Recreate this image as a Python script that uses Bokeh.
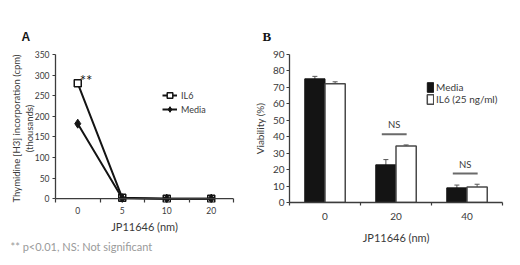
import numpy as np
from bokeh.plotting import figure
from bokeh.models import (ColumnDataSource, FixedTicker, Legend, LegendItem, Title,
                          Whisker, TeeHead, Range1d, Span)
from bokeh.layouts import row
from bokeh.embed import file_html
from bokeh.resources import INLINE
from bokeh.core.properties import value

# ---------------- data ----------------
# Panel A: thymidine incorporation (thousands cpm)
doses_a = ["0", "5", "10", "20"]
il6_a = [280, 2, 0, 0]
media_a = [182, 1, 0, 0]
yticks_a = [0, 50, 100, 150, 200, 250, 300, 350]

# Panel B: viability (%)
doses_b = ["0", "20", "40"]
media_b = [75.2, 22.9, 8.9]
media_b_err = [1.5, 3.2, 1.7]
il6_b = [72.2, 34.3, 9.5]
il6_b_err = [1.2, 0.7, 1.6]
yticks_b = [0, 10, 20, 30, 40, 50, 60, 70, 80, 90]
ns_groups = ["20", "40"]

FONT = "Lato"
TXT = "#3a3a3a"
AX = "#3c3c3c"
INK = "#141414"


def style_axes(p, tick_size):
    for ax in (p.xaxis[0], p.yaxis[0]):
        ax.axis_line_color = AX
        ax.axis_line_width = 1.3
        ax.major_tick_line_color = AX
        ax.major_tick_line_width = 1.2
        ax.minor_tick_line_color = AX
        ax.minor_tick_line_width = 1.2
        ax.major_label_text_font = FONT
        ax.major_label_text_font_size = tick_size
        ax.major_label_text_color = TXT
        ax.axis_label_text_font = FONT
        ax.axis_label_text_font_style = "normal"
        ax.axis_label_text_color = TXT
    p.grid.visible = False
    p.outline_line_color = None


# ---------------- Panel A ----------------
# frame extends a few px below zero so markers sitting on the axis are not clipped
pad_px = 4
ya_pad = pad_px * 350 / 149.0
pa = figure(width=250, height=265, output_backend="svg", toolbar_location=None,
            x_range=Range1d(0, len(doses_a)), y_range=Range1d(-ya_pad, 350),
            min_border_left=55, min_border_right=17, min_border_top=53,
            min_border_bottom=59)
style_axes(pa, "8.5px")

pa.title.text = "A"
pa.title.align = "left"
pa.title.offset = -34
pa.title.standoff = 22
pa.title.text_font = "Liberation Sans"
pa.title.text_font_size = "12px"
pa.title.text_font_style = "bold"
pa.title.text_color = INK

xa = [i + 0.5 for i in range(len(doses_a))]
# axis line drawn at zero
pa.add_layout(Span(location=0, dimension="width", line_color=AX, line_width=1.3))

la_il6 = pa.line(xa, il6_a, line_color=INK, line_width=2)
sa_il6 = pa.scatter(xa, il6_a, marker="square", size=7, fill_color="white",
                    line_color=INK, line_width=1.5)
la_med = pa.line(xa, media_a, line_color=INK, line_width=2)
sa_med = pa.scatter(xa, media_a, marker="diamond", size=9, fill_color=INK,
                    line_color=INK)

pa.text(x=[xa[0]], y=[il6_a[0]], text=["**"], x_offset=2, y_offset=-3,
        text_font=value(FONT), text_font_size="15px", text_color=INK,
        text_align="left", text_baseline="middle")

pa.xaxis.ticker = FixedTicker(ticks=xa, minor_ticks=list(range(len(doses_a) + 1)))
pa.xaxis.major_label_overrides = {x: d for x, d in zip(xa, doses_a)}
pa.xaxis.axis_line_color = None
pa.xaxis.major_tick_out = 0
pa.xaxis.major_tick_in = 0
pa.xaxis.minor_tick_out = 0
pa.xaxis.minor_tick_in = pad_px
pa.xaxis.major_label_standoff = 4
pa.xaxis.axis_label = "JP11646 (nm)"
pa.xaxis.axis_label_text_font_size = "11px"
pa.xaxis.axis_label_standoff = 3

pa.yaxis.ticker = FixedTicker(ticks=yticks_a)
pa.yaxis.bounds = (0, 350)
pa.yaxis.major_tick_out = 3
pa.yaxis.major_tick_in = 0
pa.yaxis.major_label_standoff = 3
pa.yaxis.axis_label = "Thymidine [H3] incorporation (cpm)\n(thousands)"
pa.yaxis.axis_label_text_font_size = "9.5px"
pa.yaxis.axis_label_standoff = -3

leg_a = Legend(items=[LegendItem(label="IL6", renderers=[la_il6, sa_il6]),
                      LegendItem(label="Media", renderers=[la_med, sa_med])],
               location=(107, 86), padding=0, margin=0, spacing=0,
               glyph_width=15, glyph_height=14, label_height=14, label_standoff=4,
               label_text_font=FONT, label_text_font_size="9px",
               label_text_color=TXT, border_line_alpha=0,
               background_fill_alpha=0)
pa.add_layout(leg_a)

foot = Title(text="** p<0.01,  NS: Not significant", align="left", offset=-45,
             standoff=5, text_font=FONT, text_font_size="11px",
             text_font_style="normal", text_color="#9a9a9a")
pa.add_layout(foot, "below")

# ---------------- Panel B ----------------
pb = figure(width=270, height=265, output_backend="svg", toolbar_location=None,
            x_range=Range1d(0, len(doses_b)), y_range=Range1d(0, 90),
            min_border_left=37, min_border_right=18, min_border_top=54,
            min_border_bottom=63)
style_axes(pb, "10px")

pb.title.text = "B"
pb.title.align = "left"
pb.title.offset = -27
pb.title.standoff = 22
pb.title.text_font = "Liberation Serif"
pb.title.text_font_size = "13px"
pb.title.text_font_style = "bold"
pb.title.text_color = INK

bw = 0.285
xc = [i + 0.5 for i in range(len(doses_b))]
x_med = [c - bw / 2 for c in xc]
x_il6 = [c + bw / 2 for c in xc]
vb_med = pb.vbar(x=x_med, top=media_b, width=bw, fill_color=INK, line_color=INK,
                 line_width=1)
vb_il6 = pb.vbar(x=x_il6, top=il6_b, width=bw, fill_color="white",
                 line_color="#4a4a4a", line_width=1.5)

err_src = ColumnDataSource(dict(
    x=x_med + x_il6,
    upper=[v + e for v, e in zip(media_b, media_b_err)] + [v + e for v, e in zip(il6_b, il6_b_err)],
    lower=[v - e for v, e in zip(media_b, media_b_err)] + [v - e for v, e in zip(il6_b, il6_b_err)],
))
pb.add_layout(Whisker(source=err_src, base="x", upper="upper", lower="lower",
                      dimension="height", line_color="#555555", line_width=1,
                      upper_head=TeeHead(size=5, line_color="#555555", line_width=1),
                      lower_head=TeeHead(size=5, line_color="#555555", line_width=1)))

ns_x0, ns_x1, ns_y = [], [], []
for g in ns_groups:
    i = doses_b.index(g)
    top = max(media_b[i] + media_b_err[i], il6_b[i] + il6_b_err[i])
    ns_x0.append(xc[i] - 0.2)
    ns_x1.append(xc[i] + 0.15)
    ns_y.append(top + 6.5)
pb.segment(x0=ns_x0, y0=ns_y, x1=ns_x1, y1=ns_y, line_color="#6a6a6a", line_width=2)
pb.text(x=[(a + b) / 2 for a, b in zip(ns_x0, ns_x1)], y=ns_y, text=["NS"] * len(ns_y),
        y_offset=-4, text_font=value(FONT), text_font_size="9.5px", text_color=TXT,
        text_align="center", text_baseline="bottom")

pb.xaxis.ticker = FixedTicker(ticks=xc, minor_ticks=list(range(len(doses_b) + 1)))
pb.xaxis.major_label_overrides = {x: d for x, d in zip(xc, doses_b)}
pb.xaxis.major_tick_out = 0
pb.xaxis.major_tick_in = 0
pb.xaxis.minor_tick_out = 3
pb.xaxis.minor_tick_in = 0
pb.xaxis.major_label_standoff = 7
pb.xaxis.axis_label = "JP11646 (nm)"
pb.xaxis.axis_label_text_font_size = "11px"
pb.xaxis.axis_label_standoff = 8

pb.yaxis.ticker = FixedTicker(ticks=yticks_b)
pb.yaxis.major_tick_out = 3
pb.yaxis.major_tick_in = 0
pb.yaxis.major_label_standoff = 2
pb.yaxis.axis_label = "Viability (%)"
pb.yaxis.axis_label_text_font_size = "10px"
pb.yaxis.axis_label_standoff = 4

leg_b = Legend(items=[LegendItem(label="Media", renderers=[vb_med]),
                      LegendItem(label="IL6 (25 ng/ml)", renderers=[vb_il6])],
               location=(137, 97), padding=0, margin=0, spacing=0,
               glyph_width=8, glyph_height=12, label_height=12, label_standoff=2,
               label_text_font=FONT, label_text_font_size="10px",
               label_text_color=TXT, border_line_alpha=0,
               background_fill_alpha=0)
pb.add_layout(leg_b)

layout = row(pa, pb, spacing=0)
open("out.html", "w").write(file_html(layout, INLINE))
